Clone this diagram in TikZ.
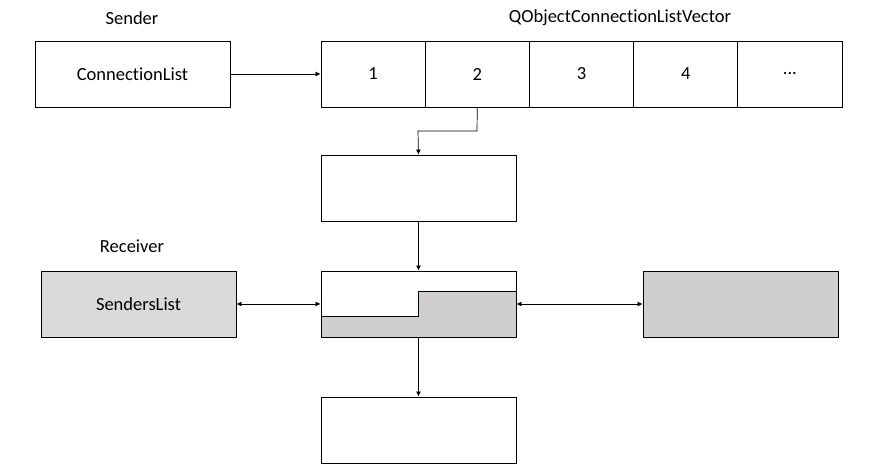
\documentclass[tikz,border=0pt]{standalone}
\usepackage{fontspec}
\setmainfont[Ligatures={NoCommon}]{Carlito}
\usetikzlibrary{arrows.meta}
\definecolor{lgray}{HTML}{DADADA}
\definecolor{mgray}{HTML}{D0CECE}
\begin{document}
\begin{tikzpicture}[x=1pt,y=-1pt,
  every node/.style={font=\fontsize{18.5}{22}\selectfont},
  box/.style={draw,line width=0.9pt,minimum width=195pt,minimum height=66pt,inner sep=0pt},
  cell/.style={draw,line width=0.9pt,minimum width=104.2pt,minimum height=66pt,inner sep=0pt},
  lbl/.style={inner sep=0pt},
  conn/.style={line width=0.7pt,-{Latex[length=5pt,width=5pt]}},
  dconn/.style={line width=0.7pt,{Latex[length=5pt,width=5pt]}-{Latex[length=5pt,width=5pt]}}]
\useasboundingbox (0,0) rectangle (873,473);
\node[lbl] (sender) at (132,18) {Sender};
\node[lbl] (vecl) at (620,18) {QObjectConnectionListVector};
\node[lbl] (recv) at (132,246) {Receiver};
\node[box] (cl) at (132.5,74) {ConnectionList};
\node[cell] (c1) at (373.1,74) {1};
\node[cell] (c2) at (477.3,74) {2};
\node[cell] (c3) at (581.5,74) {3};
\node[cell] (c4) at (685.7,74) {4};
\node[cell] (c5) at (789.9,74) {...};
\node[box] (a) at (418.5,188) {};
\node[box] (m) at (418.5,304) {};
\fill[mgray] (321,316) -- (418,316) -- (418,291) -- (516,291) -- (516,337) -- (321,337) -- cycle;
\draw[line width=0.9pt] (321,316) -- (418,316) -- (418,291) -- (516,291);
\node[box] at (418.5,304) {};
\node[box,fill=lgray] (sl) at (138.5,304) {SendersList};
\node[box,fill=mgray] (r) at (740.5,304) {};
\node[box] (b) at (418.5,430) {};
\coordinate (k1) at (477,131);
\coordinate (k2) at (418,131);
\draw[conn] (cl.east) -- (c1.west);
\draw[conn] (c2.south) -- (k1) -- (k2) -- (a.north);
\draw[conn] (a.south) -- (m.north);
\draw[conn] (m.south) -- (b.north);
\draw[dconn] (sl.east) -- (m.west);
\draw[dconn] (m.east) -- (r.west);
\end{tikzpicture}
\end{document}
